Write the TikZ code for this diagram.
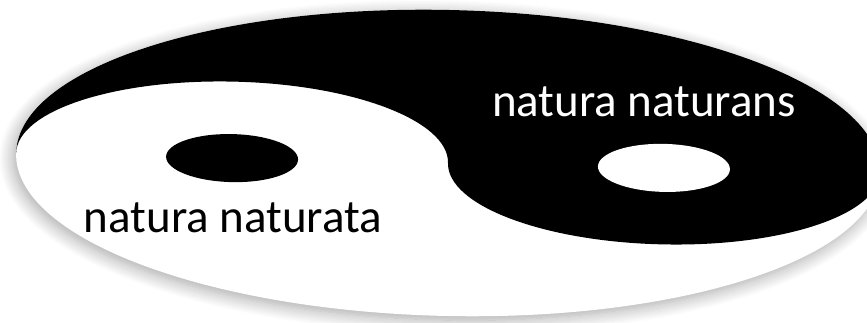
\documentclass[tikz,border=0pt]{standalone}
\usepackage{fontspec}
\setmainfont{Carlito}
\usepackage{tikz}
\usetikzlibrary{positioning}
\usetikzlibrary{shadows.blur}

\begin{document}
\begin{tikzpicture}[
        x=1pt, y=1pt,
        bigtext/.style={font=\fontsize{47}{56}\selectfont, inner sep=0pt, anchor=base},
        yindisk/.style={fill=white, blur shadow={shadow xshift=-3pt, shadow yshift=-4pt, shadow blur radius=14pt, shadow blur steps=12, shadow opacity=35}}
    ]
    \useasboundingbox (0,0) rectangle (867,323);

    % disk squashed to an ellipse
    \begin{scope}[shift={(448,160)}, rotate=-1.3]
        \coordinate (Centre) at (0,0);
        \fill [yindisk] (Centre) ellipse [x radius=432, y radius=153];
        \fill [black] (-432,0) arc [start angle=180, end angle=0, x radius=432, y radius=153]
            arc [start angle=0, end angle=-180, x radius=216, y radius=76.5]
            arc [start angle=0, end angle=180, x radius=216, y radius=76.5] -- cycle;
        \fill [black] (-216,0) ellipse [x radius=66, y radius=24];
        \fill [white] (216,0) ellipse [x radius=66, y radius=24];
    \end{scope}

    \node [bigtext, text=white] (Naturans) at (644,206) {natura naturans};
    \node [bigtext, text=black] (Naturata) at (233,90) {natura naturata};

\end{tikzpicture}
\end{document}
